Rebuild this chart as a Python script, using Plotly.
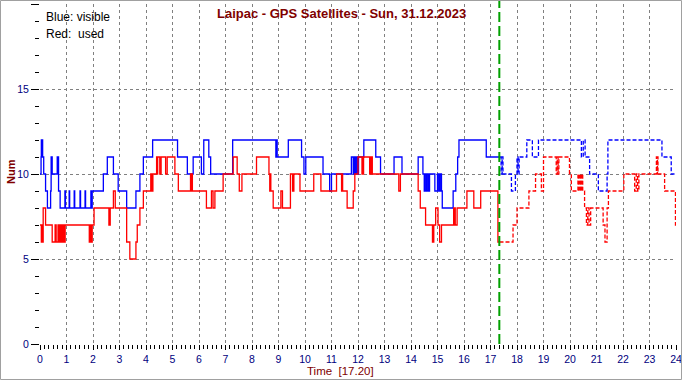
import plotly.graph_objects as go

# ---------------- data ----------------
now_h = 17 + 20 / 60          # "Time [17.20]"
day_end = 24

# visible satellites (blue), today up to now
blue_t = [0.00, 0.04, 0.05, 0.07, 0.08, 0.10, 0.14, 0.21, 0.28, 0.40, 0.42, 0.43, 0.44, 0.46, 0.65, 0.66, 0.67, 0.70, 0.76,
          0.94, 0.96, 1.10, 1.12, 1.29, 1.31, 1.51, 1.53, 1.70, 1.72, 1.92, 1.94, 1.97, 2.39, 2.54, 2.77, 2.95, 3.27, 3.62, 3.77, 3.90, 4.25,
          5.19, 5.56, 5.78, 6.09, 6.18, 6.37, 6.44, 7.27, 8.90, 8.92, 8.95, 9.37, 9.87, 9.96, 10.03, 10.68, 10.93, 11.00, 11.75, 11.82,
          11.86, 11.90, 11.95, 11.98, 12.02, 12.22, 12.67, 12.85, 13.36, 13.66, 14.27, 14.45, 14.50, 14.53, 14.58, 14.60, 14.65, 14.70,
          14.90, 15.00, 15.05, 15.10, 15.15, 15.18, 15.59, 15.69, 15.76, 15.81, 16.84]
blue_v = [10, 11, 12, 11, 12, 11, 10, 9, 8, 9, 11, 10, 11, 10, 11, 10, 11, 9, 8,
          9, 8, 9, 8, 9, 8, 9, 8, 9, 8, 9, 8, 9, 10, 11, 10, 9, 8, 9, 10, 11, 12,
          11, 10, 11, 10, 12, 11, 10, 12, 11, 12, 11, 12, 11, 10, 11, 10, 9, 10, 11, 10,
          11, 10, 11, 10, 11, 12, 11, 10, 11, 10, 11, 10, 9, 10, 9, 10, 9, 10,
          9, 10, 9, 10, 9, 8, 9, 10, 11, 12, 11]

# used satellites (red), today up to now
red_t = [0.00, 0.05, 0.06, 0.07, 0.08, 0.09, 0.12, 0.21, 0.46, 0.57, 0.61, 0.68, 0.70, 0.72, 0.74, 0.76, 0.78, 0.80, 0.82, 0.85, 0.87, 0.90, 0.92, 0.95,
         1.86, 1.88, 1.90, 1.92, 1.94, 1.97, 2.04, 2.60, 2.65, 2.77, 2.84, 3.27, 3.39, 3.62, 3.67, 3.77, 3.90,
         4.18, 4.20, 4.22, 4.24, 4.26, 4.40, 4.42, 4.44, 4.52, 4.57, 4.74, 4.80, 5.09, 5.22,
         5.68, 5.70, 5.72, 5.75, 6.28, 6.47, 6.53, 6.60, 6.91, 7.29, 7.44, 7.52, 7.62, 8.17, 8.64, 8.67, 8.69, 8.71, 8.80, 9.09, 9.15,
         9.45, 9.53, 9.55, 9.57, 9.58, 9.81, 10.33, 10.60, 11.19, 11.38, 11.40, 11.42, 11.59, 11.82, 11.88, 12.00,
         12.15, 12.17, 12.19, 12.21, 12.44, 12.46, 12.48, 12.50, 12.54, 13.54, 13.60, 14.27, 14.35, 14.55, 14.81, 14.86, 14.93, 15.02,
         15.08, 15.15, 15.61, 15.63, 15.65, 15.67, 15.74, 16.11, 16.37, 16.63, 17.28]
red_v = [7, 6, 7, 6, 7, 6, 8, 7, 6, 7, 6, 7, 6, 7, 6, 7, 6, 7, 6, 7, 6, 7, 6, 7,
         6, 7, 6, 7, 6, 7, 8, 7, 8, 9, 8, 6, 5, 6, 7, 8, 9,
         10, 9, 10, 9, 10, 11, 10, 11, 10, 11, 10, 11, 10, 9,
         10, 9, 10, 9, 8, 9, 8, 9, 10, 11, 10, 9, 10, 11, 10, 9, 10, 9, 8, 9, 8,
         10, 9, 10, 9, 10, 9, 10, 9, 10, 9, 10, 9, 8, 9, 10, 11,
         10, 11, 10, 11, 10, 11, 10, 11, 10, 9, 10, 9, 8, 7, 6, 7, 8, 7,
         6, 7, 8, 7, 8, 7, 8, 9, 8, 9, 6]

# remainder of the day (dashed)
blue_rest_t = [17.34, 17.40, 17.44, 17.47, 17.79, 17.94, 18.00, 18.04, 18.08, 18.37, 18.58, 18.81, 20.43, 20.50, 20.57,
               20.74, 21.07, 21.40, 21.43, 23.47, 23.82]
blue_rest_v = [11, 10, 11, 10, 9, 10, 11, 10, 11, 12, 11, 12, 11, 12, 11,
               10, 9, 10, 12, 11, 10]
red_rest_t = [17.34, 17.85, 18.00, 18.45, 18.70, 18.92, 19.00, 19.48, 19.52, 19.55, 19.58, 19.98, 20.05, 20.30, 20.33,
              20.38, 20.41, 20.45, 20.48, 20.55, 20.62, 20.67, 20.72, 20.78, 21.25, 21.32, 21.40, 21.45, 22.03, 22.44,
              22.50, 22.55, 22.60, 23.26, 23.28, 23.30, 23.32, 23.57, 23.98]
red_rest_v = [6, 7, 8, 9, 10, 9, 11, 10, 11, 10, 11, 10, 9, 10, 9,
              10, 9, 10, 9, 8, 7, 8, 7, 8, 7, 6, 8, 9, 10, 9,
              10, 9, 10, 11, 10, 11, 10, 9, 7]

x_ticks = list(range(0, 25))
y_ticks = [0, 5, 10, 15, 20]


def step(ts, vs, end):
    n = min(len(ts), len(vs))
    xs = list(ts[:n]) + [end]
    ys = list(vs[:n]) + [vs[n - 1]]
    return xs, ys


BLUE = "#0000FF"
RED = "#FF0000"
DARKRED = "#800000"
NAVY = "#000080"
FONT = "Arial, Liberation Sans, sans-serif"
LW = 1.3

fig = go.Figure()

bx, by = step(blue_t, blue_v, now_h)
rx, ry = step(red_t, red_v, now_h)
bpx, bpy = step(blue_rest_t, blue_rest_v, day_end)
rpx, rpy = step(red_rest_t, red_rest_v, day_end)

fig.add_trace(go.Scatter(x=bx, y=by, mode="lines", line=dict(color=BLUE, width=LW, shape="hv"), hoverinfo="skip"))
fig.add_trace(go.Scatter(x=bpx, y=bpy, mode="lines", line=dict(color=BLUE, width=LW, shape="hv", dash="4px,2px"), hoverinfo="skip"))
fig.add_trace(go.Scatter(x=rx, y=ry, mode="lines", line=dict(color=RED, width=LW, shape="hv"), hoverinfo="skip"))
fig.add_trace(go.Scatter(x=rpx, y=rpy, mode="lines", line=dict(color=RED, width=LW, shape="hv", dash="4px,2px"), hoverinfo="skip"))

W, H = 682, 380
ML, MR, MT, MB = 40, 6, 4, 36
PW, PH = W - ML - MR, H - MT - MB


def px2x(px):
    return (px - ML) / PW


def py2y(py):
    return (H - MB - py) / PH


# current time marker
fig.add_shape(type="line", xref="x", yref="paper", x0=now_h, x1=now_h, y0=0, y1=py2y(1),
              line=dict(color="#00A000", width=2, dash="10px,4px"))

# outer frame
fig.add_shape(type="rect", xref="paper", yref="paper",
              x0=px2x(0.5), x1=px2x(W - 0.5), y0=py2y(H - 0.5), y1=py2y(0.5),
              line=dict(color="#A0A0A0", width=1), layer="above")

fig.add_annotation(text="<b>Laipac - GPS Satellites - Sun, 31.12.2023</b>", xref="paper", yref="paper",
                   x=px2x(341), y=py2y(13), showarrow=False, xanchor="center", yanchor="middle",
                   font=dict(family=FONT, size=13, color=DARKRED))
fig.add_annotation(text="Blue: visible", xref="paper", yref="paper", x=px2x(44), y=py2y(17),
                   showarrow=False, xanchor="left", yanchor="middle", font=dict(family=FONT, size=12, color="black"))
fig.add_annotation(text="Red:  used", xref="paper", yref="paper", x=px2x(44), y=py2y(34),
                   showarrow=False, xanchor="left", yanchor="middle", font=dict(family=FONT, size=12, color="black"))
fig.add_annotation(text="<b>Num</b>", xref="paper", yref="paper", x=px2x(11), y=py2y(172), textangle=-90,
                   showarrow=False, xanchor="center", yanchor="middle", font=dict(family=FONT, size=11, color=DARKRED))
fig.add_annotation(text="Time  [17.20]", xref="paper", yref="paper", x=px2x(340), y=py2y(371),
                   showarrow=False, xanchor="center", yanchor="middle", font=dict(family=FONT, size=11.5, color=DARKRED))

grid = dict(showgrid=True, gridcolor="#808080", gridwidth=1, griddash="3px,3px")

fig.update_layout(
    width=W, height=H, margin=dict(l=ML, r=MR, t=MT, b=MB, autoexpand=False),
    paper_bgcolor="white", plot_bgcolor="white", showlegend=False,
    xaxis=dict(range=[0, 24], tickmode="array", tickvals=x_ticks, ticktext=[str(v) for v in x_ticks],
               ticks="outside", ticklen=5, tickwidth=1, tickcolor="black", ticklabeloverflow="allow",
               automargin=False,
               tickfont=dict(family=FONT, size=10.5, color=NAVY), showline=False, zeroline=False,
               minor=dict(dtick=1 / 6, tick0=0, ticks="outside", ticklen=4, tickcolor="black", showgrid=False),
               fixedrange=True, **grid),
    yaxis=dict(range=[0, 20], tickmode="array", tickvals=y_ticks, ticktext=[str(v) for v in y_ticks],
               ticks="outside", ticklen=8, tickwidth=1, tickcolor="black", automargin=False,
               tickfont=dict(family=FONT, size=10.5, color=NAVY), showline=False, zeroline=False,
               minor=dict(dtick=1, tick0=0, ticks="outside", ticklen=4, tickcolor="black", showgrid=False),
               fixedrange=True, **grid),
)

fig.write_html("out.html", config={"displayModeBar": False})
